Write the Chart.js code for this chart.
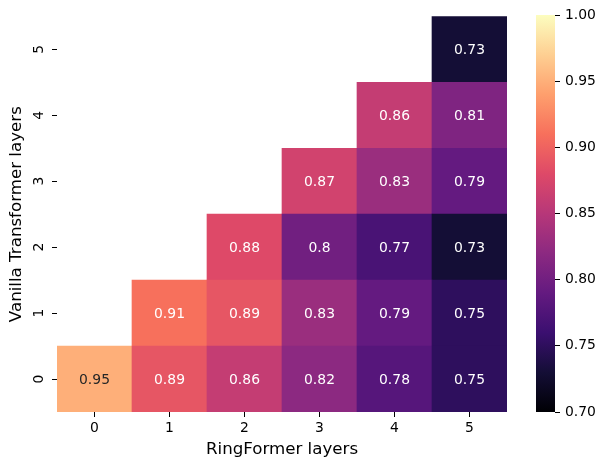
<!DOCTYPE html>
<html><head><meta charset="utf-8">
<script src="https://cdn.jsdelivr.net/npm/chart.js@4.4.1/dist/chart.umd.min.js"></script>
<style>
html,body{margin:0;padding:0;background:#fff;}
#wrap{position:relative;width:605px;height:470px;}
canvas{position:absolute;top:0;}
</style>
</head><body>
<div id="wrap">
<canvas id="main" width="605" height="470" style="left:0"></canvas>
<canvas id="cbar" width="85" height="470" style="left:520px"></canvas>
</div>
<script>
// ---- data ----
const xLabels = ['0', '1', '2', '3', '4', '5'];
const yLabels = ['0', '1', '2', '3', '4', '5'];
const row0 = [0.95, 0.89, 0.86, 0.82, 0.78, 0.75];
const row1 = [null, 0.91, 0.89, 0.83, 0.79, 0.75];
const row2 = [null, null, 0.88, 0.80, 0.77, 0.73];
const row3 = [null, null, null, 0.87, 0.83, 0.79];
const row4 = [null, null, null, null, 0.86, 0.81];
const row5 = [null, null, null, null, null, 0.73];
const rows = [row0, row1, row2, row3, row4, row5];
const cbMin = 0.70, cbMax = 1.00;
const cbTicks = [0.70, 0.75, 0.80, 0.85, 0.90, 0.95, 1.00];
const xTitle = 'RingFormer layers';
const yTitle = 'Vanilla Transformer layers';

// ---- colormap ----
const magmaStops = ['#000004','#140e36','#3b0f70','#641a80','#8c2981','#b73779','#de4968','#f7705c','#fe9f6d','#fecf92','#fcfdbf'];
function hexRgb(h){return [parseInt(h.slice(1,3),16),parseInt(h.slice(3,5),16),parseInt(h.slice(5,7),16)];}
const magmaRgb = magmaStops.map(hexRgb);
function magma(v){
  let t = (v - cbMin) / (cbMax - cbMin);
  t = Math.max(0, Math.min(1, t));
  const n = magmaRgb.length - 1;
  const p = t * n;
  const i = Math.min(Math.floor(p), n - 1);
  const f = p - i;
  const a = magmaRgb[i], b = magmaRgb[i + 1];
  return [0,1,2].map(k => Math.round(a[k] + (b[k] - a[k]) * f));
}
function rgbStr(c){return 'rgb(' + c.join(',') + ')';}
function lum(c){
  const l = c.map(x => { x /= 255; return x <= 0.03928 ? x / 12.92 : Math.pow((x + 0.055) / 1.055, 2.4); });
  return 0.2126 * l[0] + 0.7152 * l[1] + 0.0722 * l[2];
}

Chart.defaults.font.family = '"DejaVu Sans"';
Chart.defaults.color = '#000';

const datasets = rows.map((row, yi) => ({
  label: 'row ' + yLabels[yi],
  data: row.map(v => v == null ? null : [yi - 0.5, yi + 0.5]),
  values: row,
  backgroundColor: row.map(v => v == null ? 'rgba(0,0,0,0)' : rgbStr(magma(v))),
  borderWidth: 0,
  barPercentage: 1,
  categoryPercentage: 1,
  grouped: false
}));

const annotate = {
  id: 'annotate',
  afterDatasetsDraw(chart) {
    const ctx = chart.ctx;
    ctx.save();
    ctx.font = '13.9px "DejaVu Sans"';
    ctx.textAlign = 'center';
    ctx.textBaseline = 'alphabetic';
    chart.data.datasets.forEach((ds, di) => {
      const meta = chart.getDatasetMeta(di);
      meta.data.forEach((el, i) => {
        const v = ds.values[i];
        if (v == null) return;
        const c = magma(v);
        ctx.fillStyle = lum(c) > 0.408 ? '#262626' : '#ffffff';
        const cy = (el.y + el.base) / 2;
        ctx.fillText(v.toFixed(2).replace(/0$/, ''), el.x, cy + 5);
      });
    });
    ctx.restore();
  }
};

new Chart(document.getElementById('main'), {
  type: 'bar',
  data: { labels: xLabels, datasets },
  plugins: [annotate],
  options: {
    responsive: false,
    animation: false,
    devicePixelRatio: 1,
    layout: { padding: { left: 0, top: 15, right: 98, bottom: 0 } },
    plugins: { legend: { display: false }, tooltip: { enabled: false } },
    scales: {
      x: {
        type: 'category',
        offset: true,
        grid: { display: true, drawOnChartArea: false, drawTicks: true, tickLength: 5, color: '#000', offset: false },
        border: { display: false },
        ticks: { font: { size: 13.9 }, color: '#000', padding: 3, maxRotation: 0, minRotation: 0 },
        title: { display: true, text: xTitle, font: { size: 16.67 }, color: '#000', padding: { top: 4, bottom: 10 } },
        afterFit(s) { s.height = 58; }
      },
      y: {
        type: 'linear',
        min: -0.5, max: 5.5,
        afterBuildTicks(s) { s.ticks = yLabels.map(l => ({ value: Number(l) })); },
        grid: { display: true, drawOnChartArea: false, drawTicks: true, tickLength: 5, color: '#000' },
        border: { display: false },
        ticks: { font: { size: 13.9 }, color: '#000', minRotation: 90, maxRotation: 90, crossAlign: 'center', padding: 8,
                 callback: v => String(v) },
        title: { display: true, text: yTitle, font: { size: 16.67 }, color: '#000', padding: { top: 7, bottom: 4 } },
        afterFit(s) { s.width = 57; }
      }
    }
  }
});

// ---- colorbar ----
new Chart(document.getElementById('cbar'), {
  type: 'bar',
  data: {
    labels: ['cb'],
    datasets: [{
      data: [[cbMin, cbMax]],
      borderWidth: 0,
      barPercentage: 1,
      categoryPercentage: 1,
      backgroundColor(ctx) {
        const chart = ctx.chart;
        if (!chart.chartArea) return 'rgba(0,0,0,0)';
        const ys = chart.scales.y;
        const g = chart.ctx.createLinearGradient(0, ys.getPixelForValue(cbMin), 0, ys.getPixelForValue(cbMax));
        magmaStops.forEach((c, i) => g.addColorStop(i / (magmaStops.length - 1), c));
        return g;
      }
    }]
  },
  options: {
    responsive: false,
    animation: false,
    devicePixelRatio: 1,
    layout: { padding: { left: 16, top: 15, right: 0, bottom: 58 } },
    plugins: { legend: { display: false }, tooltip: { enabled: false } },
    scales: {
      x: { display: false, offset: true },
      y: {
        position: 'right',
        min: cbMin, max: cbMax,
        afterBuildTicks(s) { s.ticks = cbTicks.map(v => ({ value: v })); },
        grid: { display: true, drawOnChartArea: false, drawTicks: true, tickLength: 5, color: '#000' },
        border: { display: false },
        ticks: { font: { size: 13.9 }, color: '#000', padding: 5, callback: v => Number(v).toFixed(2) },
        afterFit(s) { s.width = 50; }
      }
    }
  }
});
</script>
</body></html>
